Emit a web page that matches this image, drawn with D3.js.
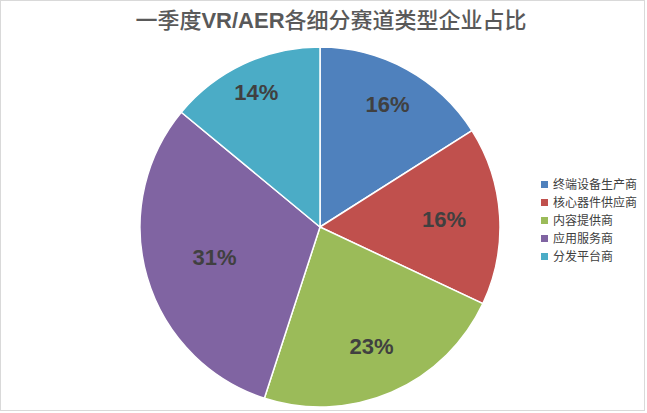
<!DOCTYPE html>
<meta charset="utf-8">
<style>
body { margin: 0; background: #fff; font-family: "Noto Sans CJK SC", "Liberation Sans", Arial, sans-serif; }
.slice path { stroke: #fff; stroke-width: 1.5px; }
.label { font-family: "Liberation Sans", Arial, sans-serif; font-weight: bold; font-size: 22px; fill: #404040; }
.legend text { font-size: 12px; fill: #404040; }
</style>
<svg width="647" height="413"></svg>
<script src="https://cdn.jsdelivr.net/npm/d3@7"></script>
<script>

var categories = ["终端设备生产商", "核心器件供应商", "内容提供商", "应用服务商", "分发平台商"];
var shares = [16, 16, 23, 31, 14];
var colors = ["#4F81BD", "#C0504D", "#9BBB59", "#8064A2", "#4BACC6"];

// where each label sits, as a fraction of the radius (excel "best fit")
var labelFrac = [0.78, 0.69, 0.72, 0.61, 0.83];

var svg = d3.select("svg"),
    width = +svg.attr("width"),
    height = +svg.attr("height");

// thin frame
svg.append("rect")
    .attr("x", 0.5).attr("y", 0.5)
    .attr("width", width - 3).attr("height", height - 3)
    .attr("fill", "none")
    .attr("stroke", "#d9d9d9");

// title
var title = svg.append("text")
    .attr("x", 331)
    .attr("y", 28)
    .attr("text-anchor", "middle")
    .attr("fill", "#595959")
    .style("font-size", "22px")
    .style("font-weight", "500");
title.append("tspan").text("一季度");
title.append("tspan").style("font-family", "'Liberation Sans', Arial, sans-serif").style("font-weight", "bold").text("VR/AER");
title.append("tspan").text("各细分赛道类型企业占比");

var radius = 180;
var cx = 320, cy = 227;

var pie = d3.pie().sort(null).value(function(d) { return d; });
var arc = d3.arc().innerRadius(0).outerRadius(radius);

var color = d3.scaleOrdinal().domain(categories).range(colors);

var g = svg.append("g").attr("transform", "translate(" + cx + "," + cy + ")");

var arcs = pie(shares).map(function(a, i) { a.name = categories[i]; a.frac = labelFrac[i]; return a; });

var slice = g.selectAll(".slice")
    .data(arcs)
  .enter().append("g")
    .attr("class", "slice");

slice.append("path")
    .attr("d", arc)
    .attr("fill", function(d) { return color(d.name); });

slice.append("text")
    .attr("class", "label")
    .attr("transform", function(d) {
      var r = radius * d.frac;
      return "translate(" + d3.arc().innerRadius(r).outerRadius(r).centroid(d) + ")";
    })
    .attr("text-anchor", "middle")
    .attr("dy", "0.35em")
    .text(function(d) { return d.data + "%"; });

// legend
var legend = svg.selectAll(".legend")
    .data(categories)
  .enter().append("g")
    .attr("class", "legend")
    .attr("transform", function(d, i) { return "translate(541," + (185 + i * 18) + ")"; });

legend.append("rect")
    .attr("x", 0).attr("y", -4)
    .attr("width", 7).attr("height", 7)
    .attr("fill", function(d) { return color(d); });

legend.append("text")
    .attr("x", 12)
    .attr("dy", "0.35em")
    .text(function(d) { return d; });

</script>
